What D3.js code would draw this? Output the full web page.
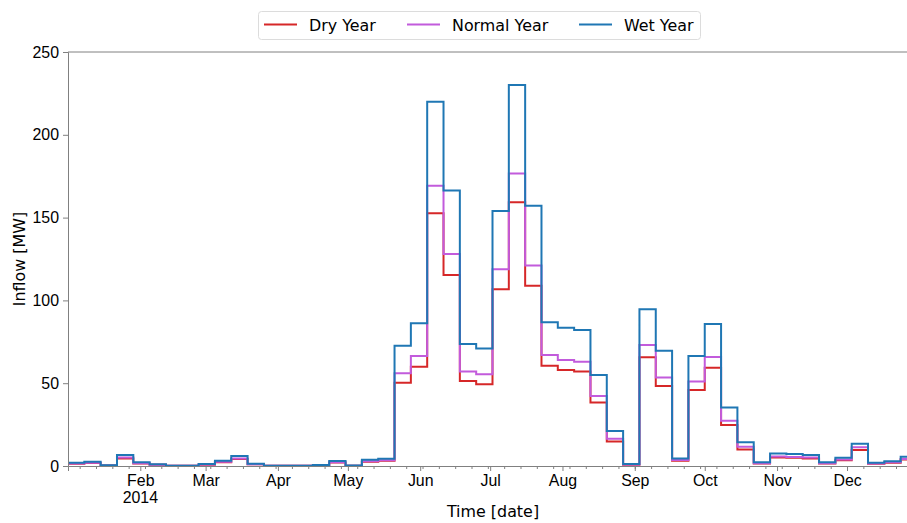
<!DOCTYPE html>
<html>
<head>
<meta charset="utf-8">
<script src="https://cdn.jsdelivr.net/npm/d3@7"></script>
<style>
  body { margin: 0; background: #fff; }
  svg { display: block; font-family: "DejaVu Sans", sans-serif; }
</style>
</head>
<body>
<svg id="chart" width="907" height="523"></svg>
<script>
// weekly inflow, first week starts on this date
const startDate = "2014-01-01";
const seriesNames = ["Dry Year", "Normal Year", "Wet Year"];
const seriesColors = ["#d62728", "#c25bdc", "#1f77b4"];

const dryYear = [1.4, 1.8, 0.3, 4.6, 1.5, 0.7, 0.1, 0.1, 0.8, 2.2, 4.2, 1, 0.1, 0.1, 0.1, 0.4, 2.1, 0.2, 2.6, 3.1,
  50.3, 60, 152.6, 115.3, 51.3, 49.3, 106.7, 159.2, 108.9, 60.6, 58, 57, 38.3, 14.8, 0.8, 65.6, 48.3, 3.2, 45.9, 59.4,
  24.8, 10, 1.5, 5.2, 5, 4.6, 1.5, 3.5, 9.7, 1.4, 2, 3.9, 3.9];
const normalYear = [1.5, 2, 0.3, 5.1, 1.7, 0.8, 0.2, 0.2, 0.9, 2.5, 4.6, 1.1, 0.2, 0.2, 0.2, 0.5, 2.3, 0.2, 2.9, 3.4,
  56, 66.4, 169.3, 128, 57, 55.4, 118.8, 176.7, 121, 67, 64, 63, 42.3, 16.5, 0.9, 73, 53.5, 3.6, 51, 65.8,
  27.4, 11.7, 1.7, 5.8, 5.5, 5.1, 1.7, 3.9, 11.3, 1.5, 2.2, 4.3, 4.3];
const wetYear = [2, 2.6, 0.4, 6.6, 2.2, 1, 0.2, 0.2, 1.2, 3.2, 6, 1.4, 0.2, 0.2, 0.2, 0.6, 3, 0.3, 3.8, 4.4,
  72.6, 86.2, 220, 166.3, 73.7, 71, 154, 230, 157.2, 86.8, 83.5, 82.1, 55, 21.2, 1.2, 94.6, 69.6, 4.6, 66.4, 85.7,
  35.4, 14.3, 2.2, 7.5, 7.2, 6.6, 2.2, 5, 13.5, 2, 2.8, 5.6, 5.6];

const monthLabels = ["Feb", "Mar", "Apr", "May", "Jun", "Jul", "Aug", "Sep", "Oct", "Nov", "Dec"];
const yearLabel = "2014";
const yTicks = [0, 50, 100, 150, 200, 250];

const svg = d3.select("#chart");
const margin = { top: 52, left: 68, bottom: 57 };
const height = 523;
const axisColor = "#808080";
const fontSize = "15.9px";

const start = d3.utcParse("%Y-%m-%d")(startDate);
const dates = wetYear.map((d, i) => d3.utcDay.offset(start, 7 * i));
const allSeries = [dryYear, normalYear, wetYear];

const x = d3.scaleUtc()
  .domain([start, dates[dates.length - 1]])
  .range([margin.left, 917]);

const y = d3.scaleLinear()
  .domain([0, 250])
  .range([height - margin.bottom, margin.top]);

// lines
const line = d3.line()
  .x((d, i) => x(dates[i]))
  .y((d) => y(d))
  .curve(d3.curveStepAfter);

allSeries.forEach((s, i) => {
  svg.append("path")
    .datum(s)
    .attr("fill", "none")
    .attr("stroke", seriesColors[i])
    .attr("stroke-width", 2)
    .attr("d", line);
});

// x axis: month ticks + weekly minor ticks (Mondays)
const monthTicks = d3.utcMonths(d3.utcDay.offset(start, 1), x.domain()[1]);
const xAxis = svg.append("g")
  .attr("transform", `translate(0,${y(0)})`)
  .call(d3.axisBottom(x)
    .tickValues(monthTicks)
    .tickFormat((d, i) => monthLabels[i])
    .tickSize(5)
    .tickPadding(4));

const minorTicks = d3.utcMondays(start, x.domain()[1]);
svg.append("g")
  .attr("transform", `translate(0,${y(0)})`)
  .call(d3.axisBottom(x).tickValues(minorTicks).tickFormat("").tickSize(3))
  .call((g) => g.select(".domain").remove());

xAxis.append("text")
  .attr("x", x(monthTicks[0]))
  .attr("y", 37)
  .attr("text-anchor", "middle")
  .attr("fill", "#000")
  .text(yearLabel);

// y axis
const yAxis = svg.append("g")
  .attr("transform", `translate(${margin.left},0)`)
  .call(d3.axisLeft(y).tickValues(yTicks).tickSize(5).tickPadding(4));

svg.selectAll(".tick line").attr("stroke", axisColor);
svg.selectAll(".domain").attr("stroke", axisColor);
svg.selectAll(".tick text").attr("fill", "#000").style("font-size", fontSize);
xAxis.selectAll("text").style("font-size", fontSize);

// top spine
svg.append("line")
  .attr("x1", margin.left).attr("x2", 917)
  .attr("y1", y(250)).attr("y2", y(250))
  .attr("stroke", axisColor);

// axis titles
svg.append("text")
  .attr("x", 493)
  .attr("y", 517)
  .attr("text-anchor", "middle")
  .style("font-size", fontSize)
  .text("Time [date]");

svg.append("text")
  .attr("transform", `translate(25,${(y(0) + y(250)) / 2}) rotate(-90)`)
  .attr("text-anchor", "middle")
  .style("font-size", fontSize)
  .text("Inflow [MW]");

// legend
const legend = svg.append("g");
legend.append("rect")
  .attr("x", 258.5).attr("y", 11.5)
  .attr("width", 442).attr("height", 28)
  .attr("rx", 3)
  .attr("fill", "#fff")
  .attr("stroke", "#dcdcdc");

const legendX = [264, 407, 579];
seriesNames.forEach((name, i) => {
  legend.append("line")
    .attr("x1", legendX[i]).attr("x2", legendX[i] + 33)
    .attr("y1", 24.5).attr("y2", 24.5)
    .attr("stroke", seriesColors[i])
    .attr("stroke-width", 2);
  legend.append("text")
    .attr("x", legendX[i] + 45)
    .attr("y", 30.5)
    .style("font-size", fontSize)
    .text(name);
});
</script>
</body>
</html>
